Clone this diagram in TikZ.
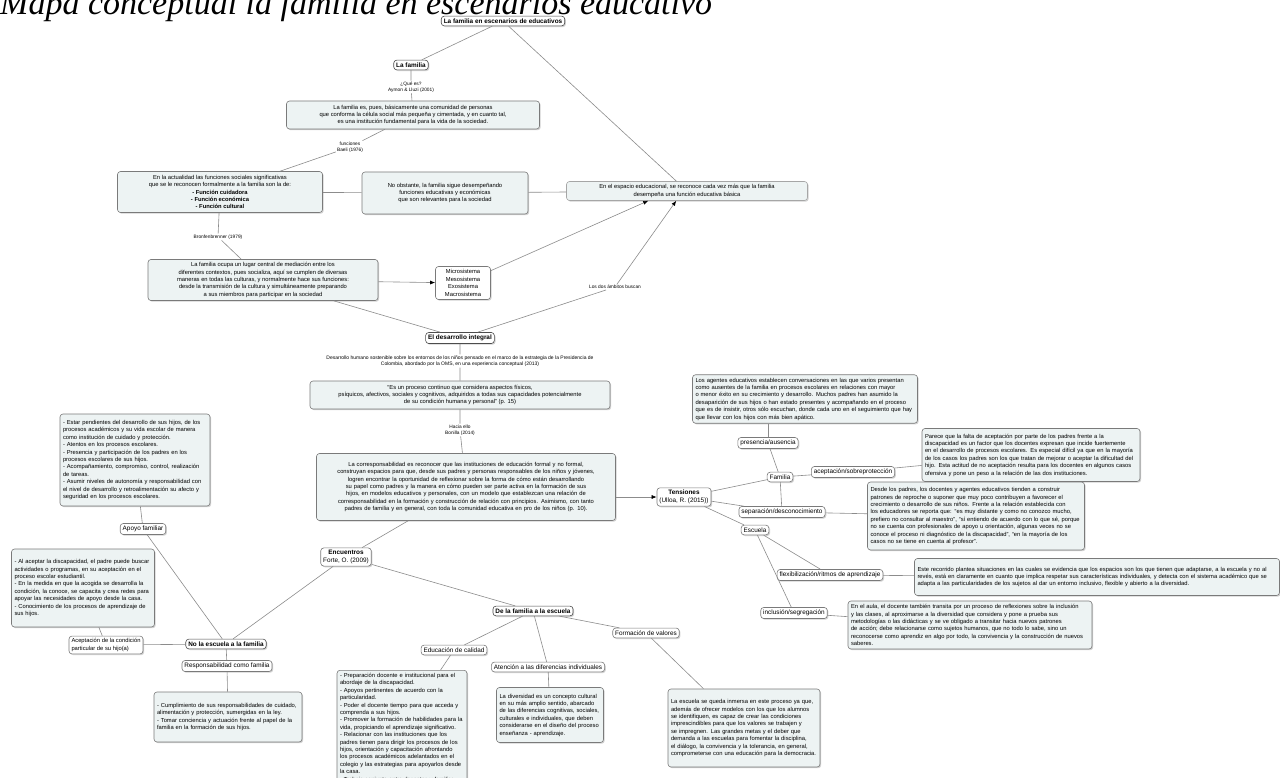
\documentclass[tikz,border=0pt]{standalone}
\usepackage{fontspec}
\setmainfont{Liberation Sans}
\newfontfamily\titlefont{Liberation Serif}
\usetikzlibrary{shadows,arrows.meta}
\definecolor{boxfill}{HTML}{EDF3F3}
\definecolor{linec}{HTML}{8C8C8C}
\definecolor{bordc}{HTML}{7A7A7A}
\newcommand\fs{\fontsize{5.8}{7.4}\selectfont}
\newcommand\fc{\fontsize{6.4}{7.4}\selectfont}
\newcommand\fl{\fontsize{4.8}{5.8}\selectfont}
\hyphenpenalty=10000
\exhyphenpenalty=10000
\tikzset{
  shad/.style={drop shadow={shadow xshift=1.2pt,shadow yshift=-1.2pt,opacity=0.35,fill=black!50}},
  txt/.style={draw=bordc, line width=0.6pt, rounded corners=3pt, fill=boxfill, inner sep=3pt, font=\fs, align=center, shad},
  cpt/.style={draw=bordc, line width=0.6pt, rounded corners=3pt, fill=white, inner sep=2.5pt, font=\fc, align=center, shad},
  cptb/.style={cpt, font=\fc\bfseries, draw=black!70},
  lbl/.style={font=\fl, align=center, inner sep=1pt, fill=white},
  con/.style={draw=linec, line width=0.6pt},
  arr/.style={con, -{Latex[length=5pt,width=4pt,color=black]}}
}
\begin{document}
\begin{tikzpicture}[x=1pt,y=-1pt]
\useasboundingbox (0,0) rectangle (1280,778);
\fill[white] (0,0) rectangle (1280,778);

\node[anchor=base west, inner sep=0pt, font=\titlefont\itshape\fontsize{34}{34}\selectfont] (ttl) at (0,15) {Mapa conceptual la familia en escenarios educativo};

% ---------- top part ----------
\node[cptb] (root) at (503,21) {La familia en escenarios de educativos};
\node[cptb] (fam) at (411,65) {La familia};
\node[lbl] (l1) at (411,87) {¿Qué es?\\Aymon \& Lluzi (2001)};
\node[txt, minimum width=253, minimum height=28] (A) at (413,115) {La familia es, pues, básicamente una comunidad de personas\\que conforma la célula social más pequeña y cimentada, y en cuanto tal,\\es una institución fundamental para la vida de la sociedad.};
\node[lbl] (l2) at (350,147) {funciones\\Baeli (1976)};
\node[txt, minimum width=205, minimum height=41] (B) at (220,192) {En la actualidad las funciones sociales significativas\\que se le reconocen formalmente a la familia son la de:\\\textbf{- Función cuidadora}\\\textbf{- Función económica}\\\textbf{- Función cultural}};
\node[txt, minimum width=166, minimum height=42] (C) at (445,193) {No obstante, la familia sigue desempeñando\\funciones educativas y económicas\\que son relevantes para la sociedad};
\node[txt, minimum width=241, minimum height=19, draw=black!35] (D) at (687,191) {En el espacio educacional, se reconoce cada vez más que la familia\\desempeña una función educativa básica};
\node[lbl] (l3) at (218,237) {Bronfenbrenner (1979)};
\node[txt, minimum width=230, minimum height=41] (E) at (263,280) {La familia ocupa un lugar central de mediación entre los\\diferentes contextos, pues socializa, aquí se cumplen de diversas\\maneras en todas las culturas, y normalmente hace sus funciones:\\desde la transmisión de la cultura y simultáneamente preparando\\a sus miembros para participar en la sociedad};
\node[cpt, font=\fs, minimum width=55, minimum height=33] (F) at (463,283) {Microsistema\\Mesosistema\\Exosistema\\Macrosistema};
\node[lbl] (l4) at (615,287) {Los dos ámbitos buscan};

% ---------- central column ----------
\node[cptb] (di) at (460,338) {El desarrollo integral};
\node[lbl, font=\fontsize{5}{6.4}\selectfont] (l5) at (460,361) {Desarrollo humano sostenible sobre los entornos de los niños pensado en el marco de la estrategia de la Presidencia de\\Colombia, abordado por la OMS, en una experiencia conceptual (2013)};
\node[txt, minimum width=300, minimum height=28] (G) at (460,395) {“Es un proceso continuo que considera aspectos físicos,\\psíquicos, afectivos, sociales y cognitivos, adquiridos a todas sus capacidades potencialmente\\de su condición humana y personal” (p. 15)};
\node[lbl] (l6) at (460,430) {Hacia ello\\Bonilla (2014)};
\node[txt, text width=293, minimum height=67] (H) at (466,487) {La corresponsabilidad es reconocer que las instituciones de educación formal y no formal, construyan espacios para que, desde sus padres y personas responsables de los niños y jóvenes, logren encontrar la oportunidad de reflexionar sobre la forma de cómo están desarrollando su papel como padres y la manera en cómo pueden ser parte activa en la formación de sus hijos, en modelos educativos y personales, con un modelo que establezcan una relación de corresponsabilidad en la formación y construcción de relación con principios. Asimismo, con tanto padres de familia y en general, con toda la comunidad educativa en pro de los niños (p. 10).};
\node[cpt] (ten) at (684,497) {\textbf{Tensiones}\\(Ulloa, R. (2015))};
\node[cpt] (enc) at (346,557) {\textbf{Encuentros}\\Forte, O. (2009)};

% ---------- left / bottom ----------
\node[txt, text width=144, align=left, minimum height=92] (LT) at (135,460) {- Estar pendientes del desarrollo de sus hijos, de los procesos académicos y su vida escolar de manera como institución de cuidado y protección.\\- Atentos en los procesos escolares.\\- Presencia y participación de los padres en los procesos escolares de sus hijos.\\- Acompañamiento, compromiso, control, realización de tareas.\\- Asumir niveles de autonomía y responsabilidad con el nivel de desarrollo y retroalimentación su afecto y seguridad en los procesos escolares.};
\node[cpt] (apo) at (143,529) {Apoyo familiar};
\node[txt, text width=137, align=left, minimum height=78] (L2) at (83,588) {- Al aceptar la discapacidad, el padre puede buscar actividades o programas, en su aceptación en el proceso escolar estudiantil.\\- En la medida en que la acogida se desarrolla la condición, la conoce, se capacita y crea redes para apoyar las necesidades de apoyo desde la casa.\\- Conocimiento de los procesos de aprendizaje de sus hijos.};
\node[cpt, align=left, font=\fs] (ada) at (106,645) {Aceptación de la condición\\particular de su hijo(a)};
\node[cptb] (nef) at (226,644) {No la escuela a la familia};
\node[cpt] (res) at (227,666) {Responsabilidad como familia};
\node[txt, text width=142, align=left, minimum height=50] (RB) at (228,717) {- Cumplimiento de sus responsabilidades de cuidado, alimentación y protección, sumergidas en la ley.\\- Tomar conciencia y actuación frente al papel de la familia en la formación de sus hijos.};
\node[cptb] (dfe) at (533,611) {De la familia a la escuela};
\node[cpt] (edu) at (454,650) {Educación de calidad};
\node[cpt] (ate) at (548,667) {Atención a las diferencias individuales};
\node[cpt] (for) at (646,633) {Formación de valores};
\node[txt, text width=124, align=left, anchor=north] (EB) at (402,670) {- Preparación docente e institucional para el abordaje de la discapacidad.\\- Apoyos pertinentes de acuerdo con la particularidad.\\- Poder el docente tiempo para que acceda y comprenda a sus hijos.\\- Promover la formación de habilidades para la vida, propiciando el aprendizaje significativo.\\- Relacionar con las instituciones que los padres tienen para dirigir los procesos de los hijos, orientación y capacitación afrontando los procesos académicos adelantados en el colegio y las estrategias para apoyarlos desde la casa.\\- Trabajo conjunto entre docentes y familias.};
\node[txt, text width=101, align=left, minimum height=55] (AB) at (550,715) {La diversidad es un concepto cultural en su más amplio sentido, abarcado de las diferencias cognitivas, sociales, culturales e individuales, que deben considerarse en el diseño del proceso enseñanza - aprendizaje.};
\node[txt, text width=146, align=left, minimum height=78] (FB) at (744,728) {La escuela se queda inmersa en este proceso ya que, además de ofrecer modelos con los que los alumnos se identifiquen, es capaz de crear las condiciones imprescindibles para que los valores se trabajen y se impregnen. Las grandes metas y el deber que demanda a las escuelas para fomentar la disciplina, el diálogo, la convivencia y la tolerancia, en general, comprometerse con una educación para la democracia.};

% ---------- right ----------
\node[txt, text width=219, align=left, minimum height=44] (R1) at (805,399) {Los agentes educativos establecen conversaciones en las que varios presentan como ausentes de la familia en procesos escolares en relaciones con mayor o menor éxito en su crecimiento y desarrollo. Muchos padres han asumido la desaparición de sus hijos o han estado presentes y acompañando en el proceso que es de insistir, otros sólo escuchan, donde cada uno en el seguimiento que hay que llevar con los hijos con más bien apático.};
\node[cpt] (pre) at (768,443) {presencia/ausencia};
\node[cpt] (fa) at (780,477) {Familia};
\node[cpt] (acep) at (853,472) {aceptación/sobreprotección};
\node[txt, text width=212, align=left, minimum height=53] (R2) at (1031,455) {Parece que la falta de aceptación por parte de los padres frente a la discapacidad es un factor que los docentes expresan que incide fuertemente en el desarrollo de procesos escolares. Es especial difícil ya que en la mayoría de los casos los padres son los que tratan de mejorar o aceptar la dificultad del hijo. Esta actitud de no aceptación resulta para los docentes en algunos casos ofensiva y pone un peso a la relación de las dos instituciones.};
\node[cpt] (sep) at (782,512) {separación/desconocimiento};
\node[txt, text width=211, align=left, minimum height=68] (R3) at (976,516) {Desde los padres, los docentes y agentes educativos tienden a construir patrones de reproche o suponer que muy poco contribuyen a favorecer el crecimiento o desarrollo de sus niños. Frente a la relación establecida con los educadores se reporta que: “es muy distante y como no conozco mucho, prefiero no consultar al maestro”, “sí entiendo de acuerdo con lo que sé, porque no se cuenta con profesionales de apoyo u orientación, algunas veces no se conoce el proceso ni diagnóstico de la discapacidad”, “en la mayoría de los casos no se tiene en cuenta al profesor”.};
\node[cpt] (esc) at (755,530) {Escuela};
\node[cpt] (flex) at (830,575) {flexibilización/ritmos de aprendizaje};
\node[txt, text width=359, align=left, minimum height=37] (R4) at (1097,577) {Este recorrido plantea situaciones en las cuales se evidencia que los espacios son los que tienen que adaptarse, a la escuela y no al revés, está en claramente en cuanto que implica respetar sus características individuales, y detecta con el sistema académico que se adapta a las particularidades de los sujetos al dar un entorno inclusivo, flexible y abierto a la diversidad.};
\node[cpt] (inc) at (794,613) {inclusión/segregación};
\node[txt, text width=238, align=left, minimum height=48] (R5) at (970,625) {En el aula, el docente también transita por un proceso de reflexiones sobre la inclusión y las clases, al aproximarse a la diversidad que considera y pone a prueba sus metodologías o las didácticas y se ve obligado a transitar hacia nuevos patrones de acción; debe relacionarse como sujetos humanos, que no todo lo sabe, sino un reconocerse como aprendiz en algo por todo, la convivencia y la construcción de nuevos saberes.};

% ---------- connectors ----------
\draw[con] (root) -- (fam);
\draw[con] (fam) -- (l1) -- (A);
\draw[con] (A) -- (l2) -- (B);
\draw[con] (B) -- (C);
\draw[con] (C) -- (D);
\draw[con] (root) -- (D);
\draw[con] (B) -- (l3) -- (E);
\draw[arr] (E) -- (F);
\draw[arr] (F) -- ([xshift=82]D.south west);
\draw[con] (E) -- (di);
\draw[con] (di) -- (l4);
\draw[arr] (l4) -- ([xshift=110]D.south west);
\draw[con] (di) -- (l5) -- (G) -- (l6) -- (H);
\draw[arr] (H.east |- ten.west) -- (ten.west);
\draw[con] (H) -- (enc);
\draw[con] (enc) -- (nef);
\draw[con] (enc) -- (dfe);
\draw[con] (LT) -- (apo);
\draw[con] (apo) -- (nef);
\draw[con] (L2) -- (ada);
\draw[con] (ada) -- (nef);
\draw[con] (nef) -- (res);
\draw[con] (res) -- (RB);
\draw[con] (dfe) -- (edu);
\draw[con] (dfe) -- (ate);
\draw[con] (dfe) -- (for);
\draw[con] (edu) -- (EB);
\draw[con] (ate) -- (AB);
\draw[con] (for) -- (FB);
\draw[con] (ten) -- (fa);
\draw[con] (ten) -- (sep);
\draw[con] (ten) -- (esc);
\draw[con] (fa) -- (pre);
\draw[con] (pre) -- (pre |- R1.south);
\draw[con] (fa) -- (acep);
\draw[con] (acep) -- (R2);
\draw[con] (fa) -- (sep);
\draw[con] (sep) -- (R3);
\draw[con] (esc) -- (flex);
\draw[con] (esc) -- (inc);
\draw[con] (flex) -- (R4);
\draw[con] (inc) -- (R5);
\end{tikzpicture}
\end{document}
